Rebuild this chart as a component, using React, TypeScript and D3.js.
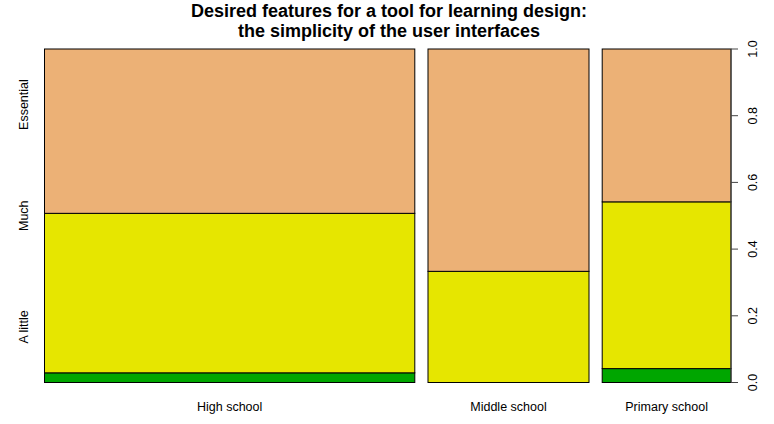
import * as d3 from "d3";

// counts per school level
const schools = ["High school", "Middle school", "Primary school"];
const aLittle = [2, 0, 1];
const much = [33, 10, 12];
const essential = [34, 20, 11];
const levels = ["A little", "Much", "Essential"];
const levelColors = ["#00A600", "#E6E600", "#ECB176"];
const yTicks = [0, 0.2, 0.4, 0.6, 0.8, 1.0];

const W = 774;
const H = 424;
const plot = { left: 44.5, right: 731, top: 49, bottom: 382.5 };
const off = 0.02;

const App = () => {
  const series = [aLittle, much, essential];
  const totals = schools.map((_, i) => series.reduce((s, arr) => s + arr[i], 0));
  const grand = d3.sum(totals);

  const xScale = d3
    .scaleLinear()
    .domain([0, 1 + off * (schools.length - 1)])
    .range([plot.left, plot.right]);
  const yScale = d3.scaleLinear().domain([0, 1]).range([plot.bottom, plot.top]);

  let cum = 0;
  const cols = schools.map((name, i) => {
    const x0 = cum + i * off;
    const w = totals[i] / grand;
    cum += w;
    let acc = 0;
    const segs = series.map((arr, j) => {
      const p0 = acc;
      acc += arr[i] / totals[i];
      return { level: levels[j], color: levelColors[j], p0, p1: acc };
    });
    return { name, x0, x1: x0 + w, segs };
  });

  const font = "'Liberation Sans', Arial, sans-serif";

  return (
    <svg
      width={W}
      height={H}
      style={{ position: "absolute", left: 0, top: 0, background: "#fff" }}
      fontFamily={font}
    >
      <text x={389} y={17} textAnchor="middle" fontSize={18} fontWeight="bold">
        Desired features for a tool for learning design:
      </text>
      <text x={389} y={37} textAnchor="middle" fontSize={18} fontWeight="bold">
        the simplicity of the user interfaces
      </text>

      {cols.map((c) => (
        <g key={c.name}>
          {c.segs.map((s) => (
            <rect
              key={s.level}
              x={xScale(c.x0)}
              y={yScale(s.p1)}
              width={xScale(c.x1) - xScale(c.x0)}
              height={yScale(s.p0) - yScale(s.p1)}
              fill={s.color}
              stroke="#000"
              strokeWidth={1}
            />
          ))}
          <text
            x={(xScale(c.x0) + xScale(c.x1)) / 2}
            y={411}
            textAnchor="middle"
            fontSize={12.5}
          >
            {c.name}
          </text>
        </g>
      ))}

      {levels.map((l, i) => {
        const y = yScale((i + 0.5) / levels.length);
        return (
          <text
            key={l}
            transform={`translate(28,${y}) rotate(-90)`}
            textAnchor="middle"
            fontSize={12.5}
          >
            {l}
          </text>
        );
      })}

      <g>
        <line
          x1={plot.right}
          x2={plot.right}
          y1={yScale(0)}
          y2={yScale(1)}
          stroke="#444"
        />
        {yTicks.map((t) => (
          <g key={t}>
            <line
              x1={plot.right}
              x2={plot.right + 7}
              y1={yScale(t)}
              y2={yScale(t)}
              stroke="#444"
            />
            <text
              transform={`translate(757,${yScale(t)}) rotate(-90)`}
              textAnchor="middle"
              fontSize={12.5}
            >
              {t.toFixed(1)}
            </text>
          </g>
        ))}
      </g>
    </svg>
  );
};

export default App;
